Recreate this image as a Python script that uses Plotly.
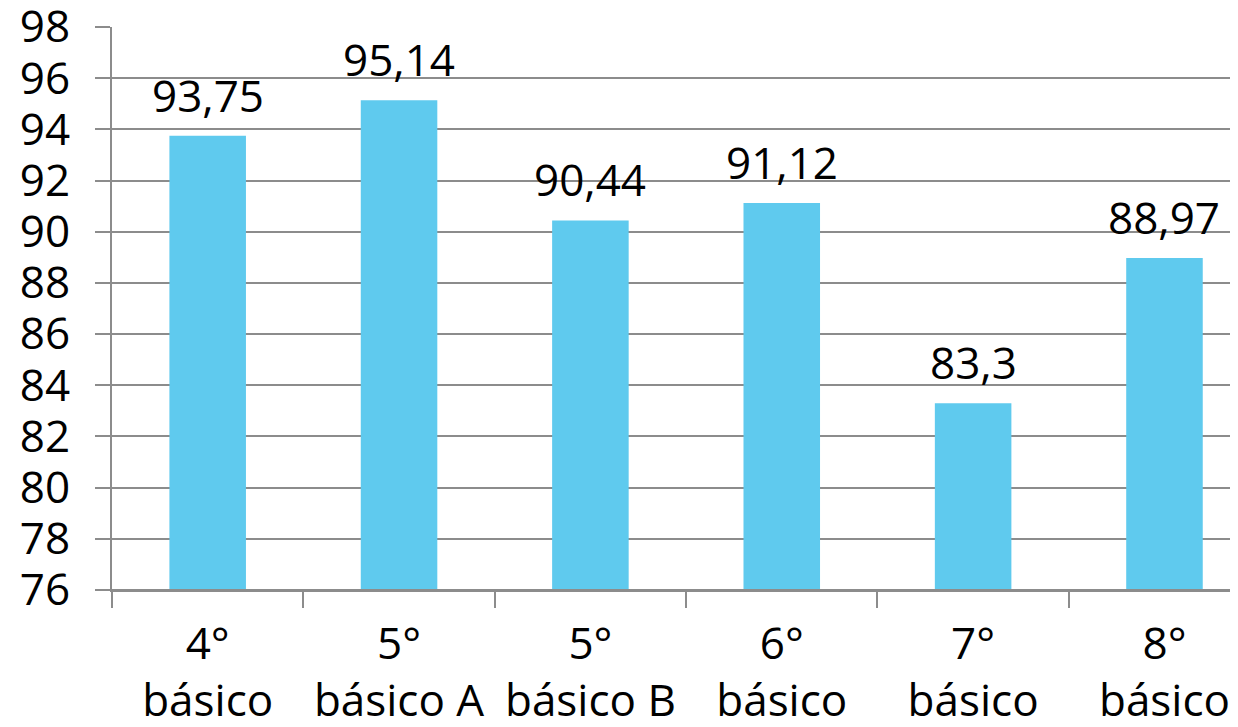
import plotly.graph_objects as go

categories = ["4°<br>básico", "5°<br>básico A", "5°<br>básico B", "6°<br>básico", "7°<br>básico", "8°<br>básico"]
values = [93.75, 95.14, 90.44, 91.12, 83.3, 88.97]
value_labels = ["93,75", "95,14", "90,44", "91,12", "83,3", "88,97"]
y_ticks = list(range(76, 99, 2))

font_name = "Open Sans"
axis_grey = "#8c8c8c"

fig = go.Figure()
fig.add_trace(go.Bar(x=categories, y=values, width=0.4,
                     marker_color="#5FCAEE", marker_line_width=0,
                     hoverinfo="skip"))

# value labels above bars
for c, v, t in zip(categories, values, value_labels):
    fig.add_annotation(x=c, y=v, text=t, showarrow=False,
                       yanchor="bottom", yshift=9,
                       font=dict(family=font_name, size=44, color="#000000"))

# base line runs a little past the y axis, like the tick marks
fig.add_shape(type="line", xref="paper", yref="y", x0=-0.0135, x1=1, y0=76, y1=76,
              line=dict(color=axis_grey, width=2), layer="above")

fig.update_xaxes(range=[-0.5, 5.426], tickson="boundaries", ticks="outside",
                 ticklen=16, tickwidth=2, tickcolor=axis_grey,
                 showline=True, linecolor=axis_grey, linewidth=2,
                 showgrid=False, ticklabelstandoff=14, automargin=False,
                 ticklabeloverflow="allow",
                 tickfont=dict(family=font_name, size=44, color="#000000"))
fig.update_yaxes(range=[76, 98], tickvals=y_ticks, ticks="outside",
                 ticklen=15, tickwidth=2, tickcolor=axis_grey,
                 showline=True, linecolor=axis_grey, linewidth=2,
                 showgrid=True, gridcolor=axis_grey, gridwidth=2,
                 zeroline=False, ticklabelstandoff=16, automargin=False,
                 ticklabeloverflow="allow",
                 tickfont=dict(family=font_name, size=44, color="#000000"))

# page body adds an 8px offset, so margins are trimmed to match
fig.update_layout(width=1238, height=727, showlegend=False,
                  margin=dict(l=104, r=0, t=19, b=145),
                  plot_bgcolor="white", paper_bgcolor="white")

fig.write_html("out.html")
